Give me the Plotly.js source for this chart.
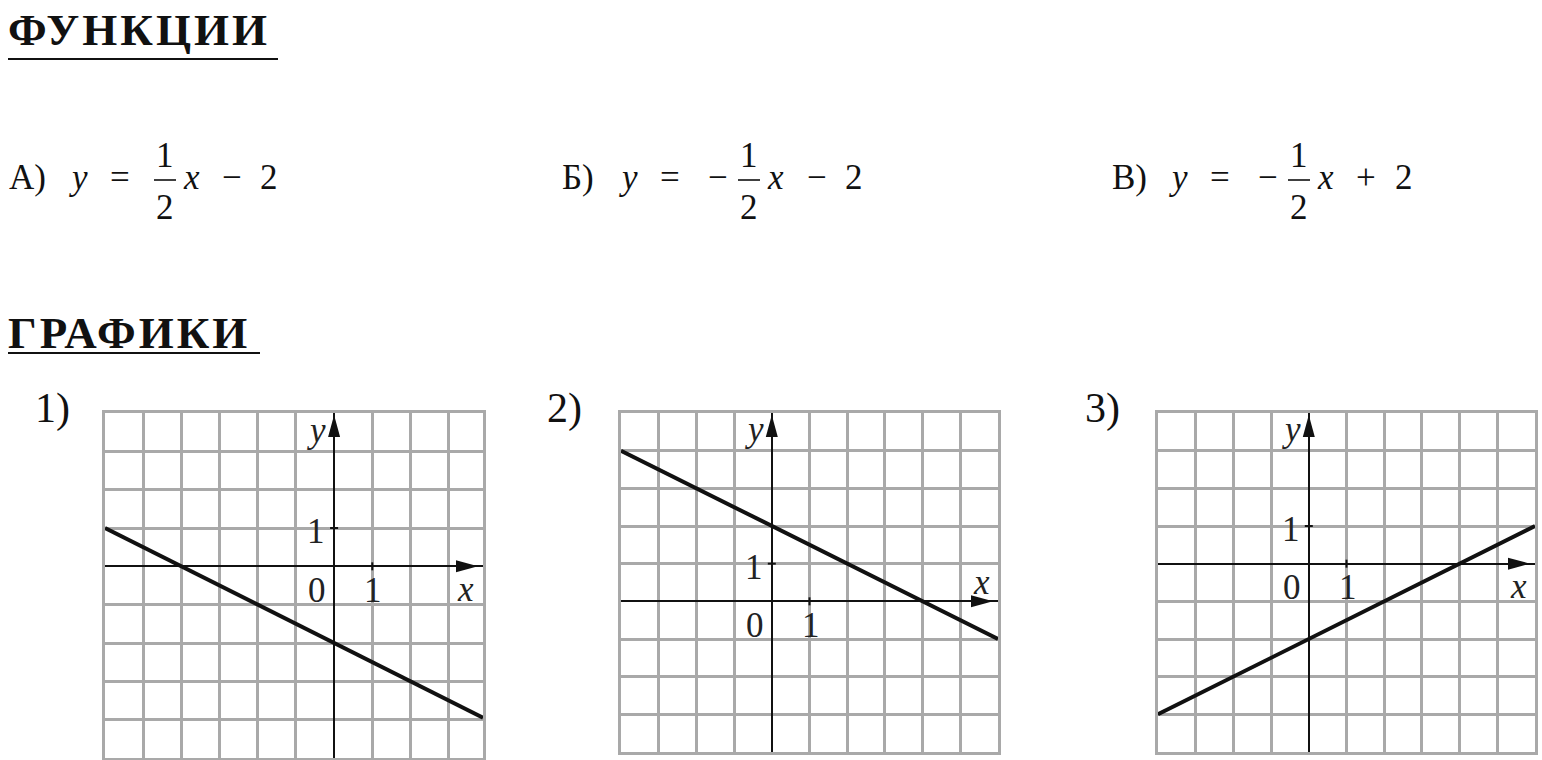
<!DOCTYPE html>
<html><head><meta charset="utf-8">
<script src="https://cdn.plot.ly/plotly-3.0.1.min.js"></script>
<style>html,body{margin:0;padding:0;background:#fff;overflow:hidden}</style>
</head><body><div id="chart"></div>
<script>
const W = 1542, H = 760;

// ---- text content ----
const headings = ['ФУНКЦИИ', 'ГРАФИКИ'];
const formulaLabels = ['А)', 'Б)', 'В)'];
const formulaSigns = ['', '−', '−'];      // sign before the fraction
const formulaOps = ['−', '−', '+'];        // operator before the constant
const fracNum = '1', fracDen = '2', constTerm = '2';
const graphLabels = ['1)', '2)', '3)'];
const axisTickLabels = ['0', '1', '1'];   // origin, x tick, y tick

// ---- data ----
const line1X = [-6, -4, 0, 3.9];
const line1Y = [1, 0, -2, -3.95];
const line2X = [-4, 0, 4, 6];
const line2Y = [4, 2, 0, -1];
const line3X = [-4, 0, 4, 6];
const line3Y = [-4, -2, 0, 1];
const xRanges = [[-6, 3.9], [-4, 6], [-4, 6]];
const yRanges = [[-5, 4], [-4, 5], [-5, 4]];

// ---- layout geometry (pixels) ----
const panelBoxes = [[105, 483, 413, 758], [621, 998, 413, 752], [1158, 1535, 413, 752]];
const xLabelAbove = [false, true, false];
const formulaPos = [
  {label: 7, y: 78, eq: 120, sign: null, frac: 165, x: 191, op: 231.5, c: 268.5},
  {label: 560, y: 628, eq: 670, sign: 717.5, frac: 749, x: 775, op: 816.5, c: 853.5},
  {label: 1110, y: 1178, eq: 1220, sign: 1267.5, frac: 1299, x: 1325, op: 1365.5, c: 1403.5}
];
const graphLabelX = [33, 545, 1083];

const FAM = 'serif';
const px = v => v / W;
const py = v => 1 - v / H;

const annotations = [];
const shapes = [];

function ptext(text, x, y, size, xanchor) {
  annotations.push({
    text: text, x: px(x), y: py(y), xref: 'paper', yref: 'paper',
    xanchor: xanchor || 'center', yanchor: 'middle', showarrow: false,
    font: {family: FAM, size: size, color: '#111'}
  });
}

// headings
ptext('<b><span style="letter-spacing:3px">' + headings[0] + '</span></b>', 6, 30, 45, 'left');
shapes.push({type: 'line', xref: 'paper', yref: 'paper', x0: px(8), x1: px(278), y0: py(59), y1: py(59), line: {color: '#111', width: 2}});
ptext('<b><span style="letter-spacing:3px">' + headings[1] + '</span></b>', 6, 333, 45, 'left');
shapes.push({type: 'line', xref: 'paper', yref: 'paper', x0: px(8), x1: px(260), y0: py(353), y1: py(353), line: {color: '#111', width: 2}});

// formulas
const FS = 35, rowY = 178, numY = 155, denY = 207, barY = 180;
formulaPos.forEach((p, i) => {
  ptext(formulaLabels[i], p.label, rowY, FS, 'left');
  ptext('<i>y</i>', p.y, rowY, FS);
  ptext('=', p.eq, rowY, FS);
  if (formulaSigns[i]) ptext(formulaSigns[i], p.sign, rowY, FS);
  ptext(fracNum, p.frac, numY, FS);
  ptext(fracDen, p.frac, denY, FS);
  shapes.push({type: 'line', xref: 'paper', yref: 'paper', x0: px(p.frac - 11), x1: px(p.frac + 11), y0: py(barY), y1: py(barY), line: {color: '#111', width: 1.6}});
  ptext('<i>x</i>', p.x, rowY, FS);
  ptext(formulaOps[i], p.op, rowY, FS);
  ptext(constTerm, p.c, rowY, FS);
});

// graph labels
graphLabels.forEach((t, i) => ptext(t, graphLabelX[i], 408.5, 42, 'left'));

// panels
const lines = [[line1X, line1Y], [line2X, line2Y], [line3X, line3Y]];
const traces = [];
const layout = {
  width: W, height: H, margin: {l: 0, r: 0, t: 0, b: 0},
  paper_bgcolor: '#fff', plot_bgcolor: '#fff', showlegend: false,
  annotations: annotations, shapes: shapes
};
const GRID = '#a9a9a9';
panelBoxes.forEach((b, i) => {
  const sfx = i === 0 ? '' : String(i + 1);
  const xr = 'x' + sfx, yr = 'y' + sfx;
  const xrng = xRanges[i], yrng = yRanges[i];
  const common = {
    dtick: 1, tick0: 0, showgrid: true, gridcolor: GRID, gridwidth: 2.6,
    zeroline: true, zerolinecolor: '#111', zerolinewidth: 2.4,
    showline: true, mirror: true, linecolor: GRID, linewidth: 2.6,
    showticklabels: false, ticks: '', fixedrange: true
  };
  layout['xaxis' + sfx] = Object.assign({}, common, {domain: [px(b[0]), px(b[1])], range: xrng, anchor: yr});
  layout['yaxis' + sfx] = Object.assign({}, common, {domain: [py(b[3]), py(b[2])], range: yrng, anchor: xr});

  traces.push({type: 'scatter', mode: 'lines', x: lines[i][0], y: lines[i][1], xaxis: xr, yaxis: yr,
    line: {color: '#111', width: 4}, hoverinfo: 'skip'});

  const cx = (b[1] - b[0]) / (xrng[1] - xrng[0]);
  const cy = (b[3] - b[2]) / (yrng[1] - yrng[0]);
  // arrow heads
  const yt = yrng[1] - 2 / cy, hl = 22, hw = 6;
  shapes.push({type: 'path', xref: xr, yref: yr, fillcolor: '#111', line: {width: 0},
    path: `M0,${yt} L${-hw / cx},${yt - hl / cy} L${hw / cx},${yt - hl / cy} Z`});
  const xt = xrng[1] - 5 / cx;
  shapes.push({type: 'path', xref: xr, yref: yr, fillcolor: '#111', line: {width: 0},
    path: `M${xt},0 L${xt - hl / cx},${hw / cy} L${xt - hl / cx},${-hw / cy} Z`});
  // unit tick marks
  shapes.push({type: 'line', xref: xr, yref: yr, x0: 1, x1: 1, y0: -4 / cy, y1: 4 / cy, line: {color: '#111', width: 2}});
  shapes.push({type: 'line', xref: xr, yref: yr, x0: -4 / cx, x1: 4 / cx, y0: 1, y1: 1, line: {color: '#111', width: 2}});

  const dl = (text, x, y) => annotations.push({text: text, x: x, y: y, xref: xr, yref: yr,
    xanchor: 'center', yanchor: 'middle', showarrow: false, font: {family: FAM, size: 35, color: '#222'}});
  dl(axisTickLabels[0], -0.45, -0.63);
  dl(axisTickLabels[1], 1.03, -0.63);
  dl(axisTickLabels[2], -0.47, 0.9);
  dl('<i>y</i>', -0.47, yrng[1] - 0.45);
  dl('<i>x</i>', xrng[1] - 0.45, xLabelAbove[i] ? 0.5 : -0.6);
});

Plotly.newPlot('chart', traces, layout, {displayModeBar: false});
</script>
</body></html>
